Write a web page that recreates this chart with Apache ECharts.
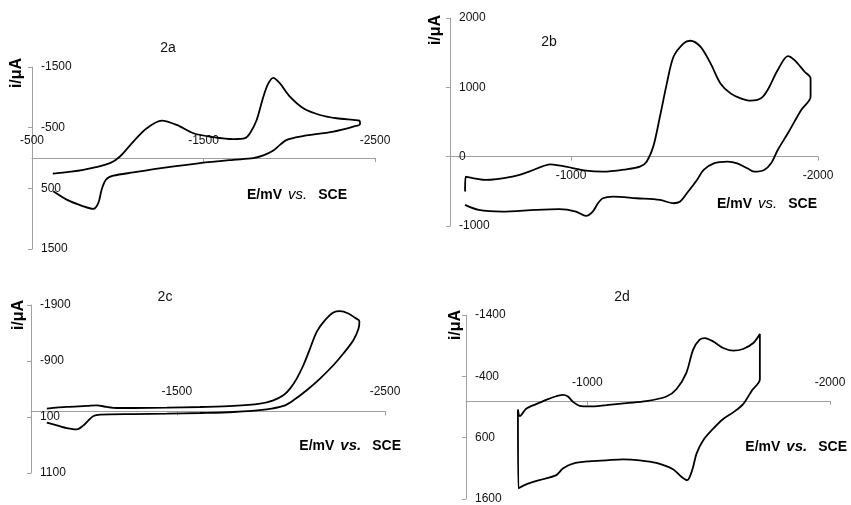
<!DOCTYPE html>
<html><head><meta charset="utf-8">
<script src="https://cdn.jsdelivr.net/npm/echarts@6/dist/echarts.min.js"></script>
<style>html,body{margin:0;padding:0;background:#fff}#c{width:851px;height:505px}</style>
</head><body><div id="c"></div>
<script>
// ---- Panel 2a ----
const a_E = [-621,-799,-955,-1013,-1091,-1169,-1256,-1344,-1441,-1557,-1674,-1742,-1771,-1810,-1849,-1878,-1907,-1946,-2004,-2082,-2179,-2276,-2374,-2409,-2413,-2374,-2257,-2063,-1985,-1946,-1907,-1849,-1790,-1674,-1480,-1285,-1091,-974,-931,-906,-887,-858,-799,-702,-624];
const a_I = [259,194,84,-25,-271,-490,-616,-545,-408,-343,-310,-326,-408,-627,-1010,-1229,-1322,-1229,-1010,-819,-709,-655,-627,-616,-562,-518,-436,-354,-299,-217,-124,-42,2,30,84,155,238,292,358,522,741,840,796,686,550];
const a_xTicks = [-500,-1500,-2500];
const a_yTicks = [-1500,-500,500,1500];
// ---- Panel 2b ----
const b_E = [-571,-573,-653,-762,-830,-918,-979,-1061,-1129,-1224,-1279,-1306,-1333,-1360,-1388,-1415,-1456,-1483,-1524,-1565,-1605,-1646,-1687,-1728,-1769,-1796,-1837,-1878,-1905,-1946,-1970,-1970,-1932,-1878,-1837,-1810,-1782,-1741,-1714,-1673,-1633,-1578,-1537,-1510,-1469,-1442,-1415,-1360,-1265,-1170,-1129,-1109,-1088,-1061,-1020,-952,-857,-721,-626,-571];
const b_I = [-504,-288,-336,-288,-216,-110,-144,-201,-216,-182,-144,-72,145,577,1057,1441,1634,1672,1586,1345,1057,913,841,807,841,961,1249,1451,1393,1225,1129,865,673,337,97,-96,-192,-216,-168,-96,-72,-96,-192,-336,-528,-648,-672,-624,-600,-576,-600,-672,-792,-855,-792,-758,-768,-792,-768,-696];
const b_xTicks = [-1000,-2000];
const b_yTicks = [2000,1000,0,-1000];
// ---- Panel 2c ----
const c_E = [-876,-972,-1068,-1116,-1164,-1212,-1292,-1452,-1612,-1772,-1900,-1964,-2012,-2044,-2076,-2108,-2140,-2172,-2212,-2252,-2284,-2324,-2356,-2377,-2373,-2348,-2300,-2252,-2188,-2124,-2060,-2012,-1932,-1772,-1612,-1452,-1292,-1132,-1100,-1076,-1052,-1020,-972,-924,-876];
const c_I = [-49,-79,-97,-109,-79,-61,-61,-67,-79,-97,-138,-198,-287,-407,-586,-824,-1122,-1420,-1629,-1766,-1790,-1748,-1671,-1611,-1480,-1271,-1033,-824,-586,-377,-198,-97,-37,11,29,41,47,58,82,160,249,321,297,249,202];
const c_xTicks = [-1500,-2500];
const c_yTicks = [-1900,-900,100,1100];
// ---- Panel 2d ----
const d_E = [-714,-722,-748,-789,-844,-899,-920,-941,-968,-1009,-1078,-1161,-1243,-1326,-1367,-1408,-1436,-1463,-1484,-1518,-1560,-1601,-1642,-1684,-1711,-1711,-1677,-1642,-1601,-1560,-1518,-1477,-1450,-1436,-1422,-1411,-1388,-1353,-1285,-1216,-1147,-1078,-1009,-941,-899,-872,-803,-748,-716,-714];
const d_I = [140,250,130,53,-38,-97,-71,16,80,91,69,37,5,-71,-189,-458,-835,-997,-1024,-970,-862,-819,-846,-943,-1089,-351,-162,53,188,296,457,646,861,1077,1238,1292,1238,1115,1012,969,953,969,985,1023,1104,1211,1292,1362,1427,140];
const d_xTicks = [-1000,-2000];
const d_yTicks = [-1400,-400,600,1600];

const panelNames = ['2a','2b','2c','2d'];
const yTitle = 'i/\u03bcA';

const FONT = '"Liberation Sans", Arial, Helvetica, sans-serif';
const AX = '#a0a0a0';
function zip(e, i) { return e.map((v, k) => [v, i[k]]); }
const plain = v => String(v);

function xAx(g, min, max, ticks, margin) {
  return {
    type: 'value', gridIndex: g, min: min, max: max, inverse: true,
    axisLine: { show: true, onZero: true, lineStyle: { color: AX, width: 1 } },
    axisTick: { show: true, customValues: ticks, length: 4, inside: false, lineStyle: { color: AX } },
    axisLabel: { customValues: ticks, inside: true, margin: margin, color: '#111', fontSize: 12, fontFamily: FONT, formatter: plain },
    splitLine: { show: false }
  };
}
function yAx(g, min, max, ticks, inverse) {
  return {
    type: 'value', gridIndex: g, min: min, max: max, inverse: inverse,
    axisLine: { show: true, onZero: false, lineStyle: { color: AX, width: 1 } },
    axisTick: { show: true, customValues: ticks, length: 4, inside: false, lineStyle: { color: AX } },
    axisLabel: { customValues: ticks, inside: true, margin: 9, color: '#111', fontSize: 12, fontFamily: FONT, formatter: plain },
    splitLine: { show: false }
  };
}
function ser(i, data) {
  return { type: 'line', xAxisIndex: i, yAxisIndex: i, data: data, showSymbol: false, smooth: 0.3,
    lineStyle: { color: '#000', width: 1.8 }, silent: true, clip: false };
}
function title(txt, x, y) {
  return { type: 'text', x: x, y: y, style: { text: txt, font: '14px ' + FONT, fill: '#111', align: 'center', verticalAlign: 'middle' } };
}
function ylab(x, y) {
  return { type: 'text', x: x, y: y, rotation: Math.PI / 2, style: { text: yTitle, font: 'bold 16px ' + FONT, fill: '#000', align: 'center', verticalAlign: 'middle' } };
}
function xlab(xr, y, boldVs) {
  return { type: 'text', x: xr, y: y, style: {
    text: '{b|E/mV}{g1| }{i|vs.}{g2| }{b|SCE}', font: 'bold 14px ' + FONT, fill: '#000', align: 'right', verticalAlign: 'middle',
    rich: {
      b: { font: 'bold 14px ' + FONT, fill: '#000' },
      i: { font: (boldVs ? 'italic bold ' : 'italic ') + '15px ' + FONT, fill: '#000' },
      g1: { width: 6, font: '14px ' + FONT },
      g2: { width: 11, font: '14px ' + FONT }
    }
  } };
}

const chart = echarts.init(document.getElementById('c'), null, { renderer: 'canvas' });
chart.setOption({
  animation: false,
  backgroundColor: '#fff',
  grid: [
    { left: 32, top: 67, width: 343, height: 182 },
    { left: 450, top: 18, width: 368, height: 208 },
    { left: 31, top: 305, width: 354, height: 168 },
    { left: 466, top: 315, width: 364, height: 186 }
  ],
  xAxis: [
    xAx(0, -2500, -500, a_xTicks, 102),
    xAx(1, -2000, -510, b_xTicks, 44),
    xAx(2, -2500, -800, c_xTicks, 75),
    xAx(3, -2000, -500, d_xTicks, 110)
  ],
  yAxis: [
    yAx(0, -1500, 1500, a_yTicks, true),
    yAx(1, -1000, 2000, b_yTicks, false),
    yAx(2, -1900, 1100, c_yTicks, true),
    yAx(3, -1400, 1600, d_yTicks, true)
  ],
  series: [ ser(0, zip(a_E, a_I)), ser(1, zip(b_E, b_I)), ser(2, zip(c_E, c_I)), ser(3, zip(d_E, d_I)) ],
  graphic: [
    title(panelNames[0], 168, 48), title(panelNames[1], 549, 42), title(panelNames[2], 165, 297), title(panelNames[3], 622, 297),
    ylab(17, 73), ylab(436, 30), ylab(19, 315), ylab(456, 325),
    xlab(347, 195, false), xlab(817, 204, false), xlab(401, 446, true), xlab(847, 447, true)
  ]
});
</script>
</body></html>
